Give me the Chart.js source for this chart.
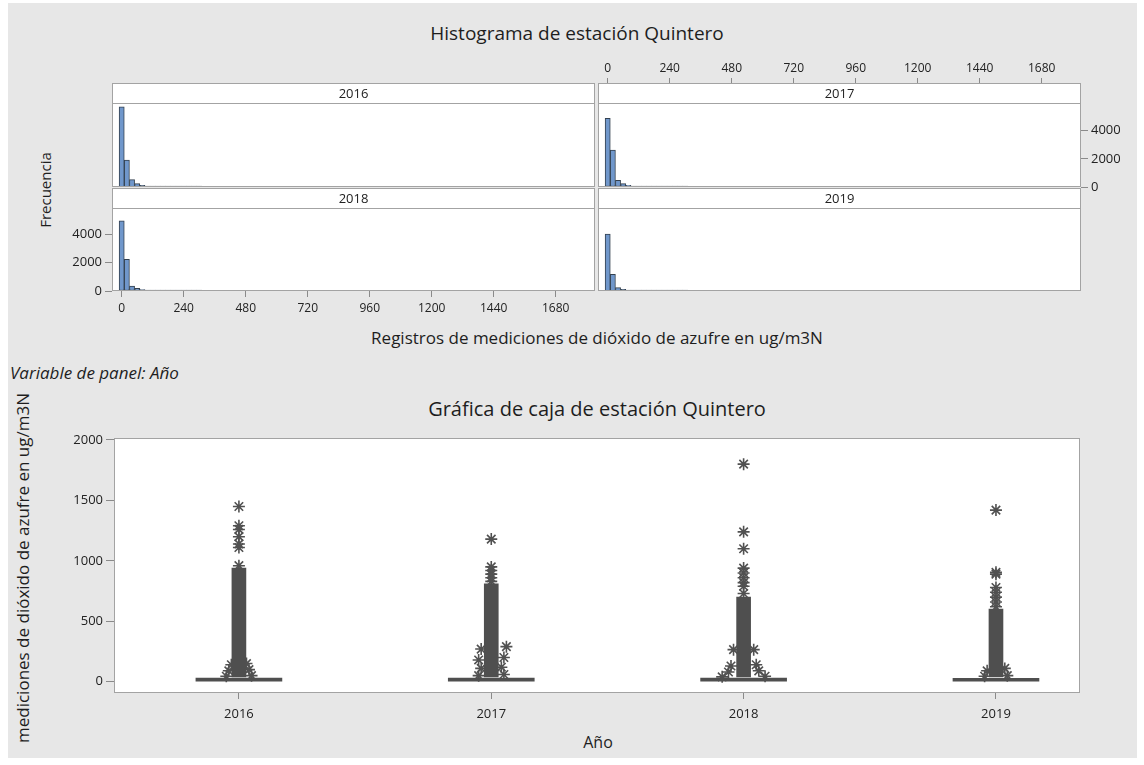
<!DOCTYPE html>
<html lang="es">
<head>
<meta charset="utf-8">
<title>Estación Quintero</title>
<script src="https://cdn.jsdelivr.net/npm/chart.js@4.4.1/dist/chart.umd.min.js"></script>
<style>
  html, body { margin: 0; padding: 0; background: #fff; }
  body { width: 1144px; height: 765px; position: relative; overflow: hidden;
         font-family: "Open Sans", "Noto Sans", sans-serif; color: #1e1e1e; }
  #bg { position: absolute; left: 8px; top: 3px; width: 1129px; height: 755px; background: #e7e7e7; }
  canvas.layer { position: absolute; left: 0; top: 0; }
  .txt { position: absolute; white-space: nowrap; transform: translate(-50%, -50%); }
  .rot { transform: translate(-50%, -50%) rotate(-90deg); }
</style>
</head>
<body>
<div id="bg"></div>

<div class="txt" style="left:577px; top:33px; font-size:19px;">Histograma de estación Quintero</div>
<div class="txt rot" style="left:45px; top:190px; font-size:15px;">Frecuencia</div>
<div class="txt" style="left:597px; top:337px; font-size:17px;">Registros de mediciones de dióxido de azufre en ug/m3N</div>
<div class="txt" style="left:10px; top:372px; font-size:17px; font-style:italic; transform:translate(0,-50%);">Variable de panel: Año</div>
<div class="txt" style="left:597px; top:408px; font-size:20px;">Gráfica de caja de estación Quintero</div>
<div class="txt rot" style="left:22px; top:568px; font-size:17px;">mediciones de dióxido de azufre en ug/m3N</div>
<div class="txt" style="left:598px; top:742px; font-size:16px;">Año</div>

<canvas class="layer" id="h2016" width="1144" height="765"></canvas>
<canvas class="layer" id="h2017" width="1144" height="765"></canvas>
<canvas class="layer" id="h2018" width="1144" height="765"></canvas>
<canvas class="layer" id="h2019" width="1144" height="765"></canvas>
<canvas class="layer" id="boxChart" width="1144" height="765"></canvas>

<script>
const years = ["2016", "2017", "2018", "2019"];

// histograma: marcas de clase (ancho 20) y frecuencias
const binMids = [0, 20, 40, 60, 80, 100, 120, 140, 160, 180, 200, 220, 240, 260, 280, 300];
const freq2016 = [5710, 1910, 530, 240, 120, 70, 45, 30, 20, 15, 10, 8, 6, 5, 4, 3];
const freq2017 = [4890, 2620, 480, 240, 120, 70, 40, 25, 18, 12, 9, 7, 5, 4, 3, 2];
const freq2018 = [4950, 2240, 350, 190, 100, 60, 40, 28, 20, 14, 10, 8, 6, 4, 3, 2];
const freq2019 = [4010, 1180, 235, 120, 65, 40, 25, 16, 11, 8, 6, 4, 3, 2, 2, 1];
const histXTicks = [0, 240, 480, 720, 960, 1200, 1440, 1680];
const histYTicks = [0, 2000, 4000];

// grafica de caja
const boxQ1 = [5, 5, 5, 5];
const boxQ3 = [30, 30, 30, 28];
// la columna oscura = muchos atipicos superpuestos
const denseLow = [40, 40, 40, 40];
const denseHigh = [940, 810, 700, 600];
const outliers2016 = [960, 1110, 1140, 1200, 1260, 1290, 1450];
const outliers2017 = [830, 860, 890, 920, 950, 1180];
const outliers2018 = [730, 790, 820, 860, 900, 940, 1100, 1240, 1800];
const outliers2019 = [620, 660, 700, 740, 780, 890, 905, 1420];
// atipicos bajos, separados a los lados (desplazamiento en x, valor)
const lowOut2016 = [[-0.05, 45], [0.05, 50], [-0.04, 90], [0.04, 100], [-0.03, 140], [0.03, 150]];
const lowOut2017 = [[-0.05, 50], [0.05, 60], [-0.04, 110], [0.04, 120], [-0.05, 180], [0.05, 200], [-0.04, 270], [0.06, 290]];
const lowOut2018 = [[-0.085, 40], [0.085, 45], [-0.06, 80], [0.06, 90], [-0.05, 130], [0.05, 140], [-0.04, 265], [0.04, 265]];
const lowOut2019 = [[-0.045, 45], [0.045, 50], [-0.035, 90], [0.035, 110]];
const boxYTicks = [0, 500, 1000, 1500, 2000];

const W = 1144, H = 765;
Chart.defaults.font.family = '"Open Sans", "Noto Sans", sans-serif';
Chart.defaults.font.size = 13;
Chart.defaults.color = "#222";

const panelDeco = {
  id: "panelDeco",
  beforeDraw(chart) {
    const a = chart.chartArea, ctx = chart.ctx;
    ctx.save();
    ctx.fillStyle = "#fff";
    ctx.fillRect(a.left, a.top, a.right - a.left, a.bottom - a.top);
    ctx.restore();
  },
  afterDraw(chart, args, opts) {
    const a = chart.chartArea, ctx = chart.ctx;
    ctx.save();
    ctx.strokeStyle = "#a3a3a3";
    ctx.lineWidth = 1;
    ctx.strokeRect(a.left + 0.5, a.top + 0.5, a.right - a.left - 1, a.bottom - a.top - 1);
    if (opts.strip) {
      ctx.beginPath();
      ctx.moveTo(a.left, a.top + opts.stripH + 0.5);
      ctx.lineTo(a.right, a.top + opts.stripH + 0.5);
      ctx.stroke();
      ctx.fillStyle = "#222";
      ctx.font = '13px "Open Sans", sans-serif';
      ctx.textAlign = "center";
      ctx.textBaseline = "middle";
      ctx.fillText(opts.strip, (a.left + a.right) / 2, a.top + opts.stripH / 2 + 1);
    }
    ctx.restore();
  }
};

function fixSize(size) {
  return function (scale) {
    if (scale.isHorizontal()) scale.height = size;
    else scale.width = size;
    scale.paddingLeft = 0;
    scale.paddingRight = 0;
    scale.paddingTop = 0;
    scale.paddingBottom = 0;
  };
}

function setTicks(values) {
  return function (scale) {
    scale.ticks = values.map((v) => ({ value: v }));
  };
}

const plainNumber = (v) => String(v);

function histPanel(id, year, freqs, rect, yMax, xPos, yPos) {
  const yW = 44, xH = 28;
  const pad = {
    left: rect.x - (yPos === "left" ? yW : 0),
    right: W - rect.x - rect.w - (yPos === "right" ? yW : 0),
    top: rect.y - (xPos === "top" ? xH : 0),
    bottom: H - rect.y - rect.h - (xPos === "bottom" ? xH : 0),
  };
  const xScale = {
    type: "linear",
    position: xPos || "bottom",
    display: !!xPos,
    min: -37.5,
    max: 1832,
    offset: false,
    grid: { offset: false, drawOnChartArea: false, tickLength: xPos === "top" ? 5 : 6, color: "#8a8a8a" },
    border: { display: false },
    ticks: { padding: xPos === "top" ? 2 : 4, maxRotation: 0, font: { size: 12 }, callback: plainNumber },
    afterBuildTicks: setTicks(histXTicks),
  };
  const yScale = {
    position: yPos || "left",
    display: !!yPos,
    min: 0,
    max: yMax,
    grid: { drawOnChartArea: false, tickLength: 7, color: "#8a8a8a" },
    border: { display: false },
    ticks: { padding: 3, callback: plainNumber },
    afterBuildTicks: setTicks(histYTicks),
  };
  if (xPos) xScale.afterFit = fixSize(xH);
  if (yPos) yScale.afterFit = fixSize(yW);

  new Chart(document.getElementById(id), {
    type: "bar",
    data: {
      datasets: [
        {
          data: binMids.map((m, i) => ({ x: m, y: freqs[i] })),
          backgroundColor: "#7097cb",
          borderColor: "#34414f",
          borderWidth: 1,
          borderSkipped: false,
          barPercentage: 1,
          categoryPercentage: 1,
          minBarLength: 1,
        },
      ],
    },
    options: {
      responsive: false,
      animation: false,
      layout: { padding: pad },
      plugins: {
        legend: { display: false },
        tooltip: { enabled: false },
        panelDeco: { strip: year, stripH: 20 },
      },
      scales: { x: xScale, y: yScale },
    },
    plugins: [panelDeco],
  });
}

histPanel("h2016", "2016", freq2016, { x: 112, y: 83, w: 483, h: 104 }, 7400, null, null);
histPanel("h2017", "2017", freq2017, { x: 598, y: 83, w: 483, h: 104 }, 7400, "top", "right");
histPanel("h2018", "2018", freq2018, { x: 112, y: 188, w: 483, h: 103 }, 7270, "bottom", "left");
histPanel("h2019", "2019", freq2019, { x: 598, y: 188, w: 483, h: 103 }, 7270, null, null);

// puntos de atipicos (asteriscos)
const outliers = [outliers2016, outliers2017, outliers2018, outliers2019];
const lowOutliers = [lowOut2016, lowOut2017, lowOut2018, lowOut2019];
const starPoints = [];
outliers.forEach((list, i) => list.forEach((v) => starPoints.push({ x: i + 1, y: v })));
lowOutliers.forEach((list, i) => list.forEach((p) => starPoints.push({ x: i + 1 + p[0], y: p[1] })));

const boxRect = { x: 114, y: 438, w: 966, h: 255 };
const bY = 45, bX = 30;
new Chart(document.getElementById("boxChart"), {
  type: "bar",
  data: {
    datasets: [
      {
        type: "bar",
        data: years.map((y, i) => ({ x: i + 1, y: [boxQ1[i], boxQ3[i]] })),
        backgroundColor: "#4f4f4f",
        barThickness: 86,
        grouped: false,
      },
      {
        type: "bar",
        data: years.map((y, i) => ({ x: i + 1, y: [denseLow[i], denseHigh[i]] })),
        backgroundColor: "#4f4f4f",
        barThickness: 14,
        grouped: false,
      },
      {
        type: "scatter",
        data: starPoints,
        pointStyle: "star",
        pointRadius: 6,
        borderColor: "#515151",
        borderWidth: 1.6,
        backgroundColor: "#515151",
      },
    ],
  },
  options: {
    responsive: false,
    animation: false,
    layout: {
      padding: {
        left: boxRect.x - bY,
        right: W - boxRect.x - boxRect.w,
        top: boxRect.y,
        bottom: H - boxRect.y - boxRect.h - bX,
      },
    },
    plugins: {
      legend: { display: false },
      tooltip: { enabled: false },
      panelDeco: {},
    },
    scales: {
      x: {
        type: "linear",
        min: 0.505,
        max: 4.333,
        offset: false,
        grid: { offset: false, drawOnChartArea: false, tickLength: 6, color: "#8a8a8a" },
        border: { display: false },
        ticks: { padding: 7, callback: (v) => years[Math.round(v) - 1] },
        afterBuildTicks: setTicks([1, 2, 3, 4]),
        afterFit: fixSize(bX),
      },
      y: {
        min: -93.5,
        max: 2016.5,
        grid: { drawOnChartArea: false, tickLength: 8, color: "#8a8a8a" },
        border: { display: false },
        ticks: { padding: 3, callback: plainNumber },
        afterBuildTicks: setTicks(boxYTicks),
        afterFit: fixSize(bY),
      },
    },
  },
  plugins: [panelDeco],
});
</script>
</body>
</html>
